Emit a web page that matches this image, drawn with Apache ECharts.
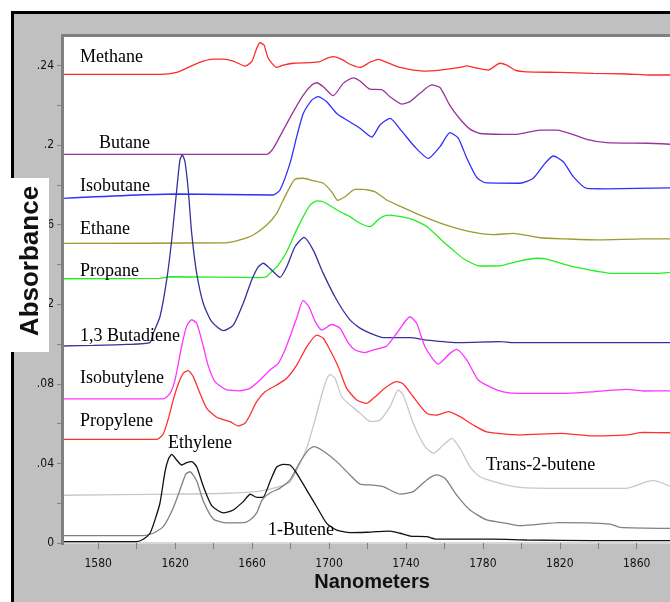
<!DOCTYPE html>
<html><head><meta charset="utf-8">
<script src="https://cdn.jsdelivr.net/npm/echarts@6/dist/echarts.min.js"></script>
<style>html,body{margin:0;padding:0;background:#fff}#c{width:670px;height:602px}</style>
</head><body><div id="c"></div>
<script>
// ---- axis ticks ----
const xTicks = [1580,1600,1620,1640,1660,1680,1700,1720,1740,1760,1780,1800,1820,1840,1860];
const xTickLabels = [1580,1620,1660,1700,1740,1780,1820,1860];
const yTicks = [0,0.02,0.04,0.06,0.08,0.10,0.12,0.14,0.16,0.18,0.20,0.22,0.24];
const yTickLabels = [0,0.04,0.08,0.12,0.16,0.20,0.24];
const xLabel = 'Nanometers';
const yLabel = 'Absorbance';

// ---- spectra: [wavelength nm, absorbance] ----
const methane = [[1561.1,0.2355],[1612.1,0.2355],[1620.8,0.2365],[1629.4,0.2402],[1634.6,0.2422],[1639.8,0.2432],[1645.0,0.2432],[1650.2,0.2422],[1656.3,0.2397],[1659.8,0.2419],[1662.4,0.2486],[1664.1,0.2514],[1666.2,0.2503],[1668.4,0.2436],[1672.8,0.2390],[1676.2,0.2402],[1681.4,0.2411],[1690.1,0.2414],[1695.3,0.2419],[1698.8,0.2436],[1702.2,0.2444],[1706.6,0.2431],[1710.9,0.2406],[1716.1,0.2390],[1721.3,0.2416],[1725.6,0.2431],[1730.0,0.2416],[1736.9,0.2390],[1749.0,0.2372],[1757.7,0.2377],[1768.1,0.2390],[1771.6,0.2398],[1777.6,0.2385],[1782.8,0.2377],[1788.9,0.2411],[1792.4,0.2402],[1796.7,0.2377],[1802.8,0.2368],[1820.1,0.2365],[1837.4,0.2360],[1854.8,0.2357],[1866.9,0.2352],[1877.3,0.2352]];
const butane = [[1561.1,0.1953],[1667.6,0.1953],[1671.0,0.1983],[1676.2,0.2075],[1681.4,0.2167],[1686.6,0.2251],[1691.0,0.2302],[1693.6,0.2313],[1697.0,0.2293],[1702.2,0.2248],[1707.4,0.2310],[1712.6,0.2338],[1716.1,0.2322],[1721.3,0.2281],[1727.4,0.2279],[1731.7,0.2243],[1737.8,0.2206],[1742.1,0.2218],[1747.3,0.2260],[1753.4,0.2302],[1757.7,0.2289],[1762.9,0.2198],[1768.1,0.2131],[1773.3,0.2080],[1778.5,0.2058],[1790.6,0.2054],[1797.6,0.2054],[1809.7,0.2075],[1818.4,0.2075],[1834.0,0.2029],[1844.4,0.2012],[1865.2,0.2009],[1877.3,0.2004]];
const isobutane = [[1561.1,0.1732],[1620.8,0.1754],[1671.0,0.1749],[1674.5,0.1774],[1679.7,0.1908],[1683.2,0.2042],[1686.6,0.2159],[1691.0,0.2226],[1694.4,0.2243],[1698.8,0.2218],[1704.0,0.2159],[1709.2,0.2126],[1716.1,0.2084],[1722.2,0.2040],[1726.5,0.2101],[1731.7,0.2134],[1737.8,0.2070],[1744.7,0.1990],[1751.6,0.1933],[1757.7,0.1992],[1762.9,0.2062],[1767.2,0.2035],[1771.6,0.1935],[1776.8,0.1837],[1781.1,0.1811],[1799.3,0.1808],[1806.2,0.1833],[1812.3,0.1908],[1816.6,0.1945],[1821.8,0.1916],[1827.0,0.1841],[1834.0,0.1782],[1844.4,0.1780],[1877.3,0.1785]];
const ethane = [[1561.1,0.1506],[1646.8,0.1509],[1653.7,0.1523],[1660.6,0.1548],[1667.6,0.1598],[1672.8,0.1657],[1676.2,0.1724],[1679.7,0.1790],[1682.3,0.1828],[1686.6,0.1833],[1691.8,0.1821],[1697.0,0.1808],[1701.4,0.1765],[1704.5,0.1722],[1708.3,0.1740],[1713.5,0.1777],[1717.8,0.1777],[1723.9,0.1765],[1730.0,0.1724],[1736.9,0.1693],[1747.3,0.1648],[1759.4,0.1603],[1773.3,0.1565],[1785.4,0.1550],[1795.8,0.1556],[1809.7,0.1534],[1823.6,0.1528],[1840.9,0.1523],[1863.4,0.1528],[1877.3,0.1528]];
const propane = [[1561.1,0.1328],[1612.1,0.1330],[1617.3,0.1338],[1664.1,0.1334],[1667.6,0.1339],[1669.3,0.1355],[1673.6,0.1397],[1678.0,0.1464],[1682.3,0.1556],[1686.6,0.1640],[1690.1,0.1698],[1693.6,0.1719],[1697.0,0.1715],[1701.4,0.1690],[1705.7,0.1665],[1710.9,0.1640],[1716.1,0.1607],[1721.3,0.1590],[1726.5,0.1632],[1730.8,0.1648],[1742.1,0.1630],[1750.8,0.1591],[1759.4,0.1514],[1764.5,0.1472],[1769.8,0.1430],[1778.5,0.1392],[1788.9,0.1393],[1797.6,0.1414],[1808.0,0.1431],[1813.2,0.1427],[1825.3,0.1393],[1840.9,0.1363],[1846.1,0.1355],[1870.4,0.1355],[1877.3,0.1360]];
const butadiene = [[1561.1,0.0990],[1577.4,0.0993],[1594.8,0.0998],[1606.9,0.1007],[1608.6,0.1054],[1612.1,0.1137],[1615.6,0.1322],[1618.2,0.1523],[1620.8,0.1774],[1622.5,0.1925],[1623.7,0.1950],[1625.1,0.1916],[1626.8,0.1774],[1628.6,0.1556],[1631.2,0.1355],[1634.6,0.1205],[1639.0,0.1112],[1645.0,0.1067],[1650.2,0.1095],[1655.4,0.1205],[1659.8,0.1322],[1663.2,0.1388],[1665.8,0.1406],[1669.3,0.1380],[1674.5,0.1335],[1678.0,0.1388],[1682.3,0.1489],[1687.0,0.1536],[1691.8,0.1472],[1697.0,0.1355],[1704.0,0.1221],[1710.9,0.1121],[1716.1,0.1080],[1721.3,0.1055],[1728.2,0.1032],[1742.1,0.1032],[1750.8,0.1020],[1768.1,0.1007],[1788.9,0.1012],[1795.8,0.1007],[1877.3,0.1007]];
const isobutylene = [[1561.1,0.0724],[1613.8,0.0724],[1617.3,0.0752],[1619.9,0.0819],[1623.4,0.0990],[1626.0,0.1090],[1628.6,0.1122],[1631.2,0.1104],[1634.6,0.0990],[1637.1,0.0894],[1640.7,0.0811],[1646.8,0.0769],[1653.7,0.0765],[1658.9,0.0777],[1664.1,0.0819],[1669.3,0.0869],[1673.6,0.0903],[1677.1,0.0970],[1679.7,0.1037],[1683.2,0.1131],[1686.6,0.1219],[1689.6,0.1187],[1692.9,0.1111],[1696.3,0.1070],[1701.4,0.1098],[1705.7,0.1079],[1710.1,0.1004],[1713.5,0.0970],[1718.7,0.0957],[1723.1,0.0970],[1730.0,0.0990],[1735.2,0.1054],[1742.1,0.1137],[1745.6,0.1104],[1749.9,0.0986],[1756.8,0.0899],[1762.9,0.0953],[1766.4,0.0973],[1771.6,0.0920],[1777.6,0.0819],[1783.7,0.0785],[1790.6,0.0760],[1799.3,0.0752],[1820.1,0.0752],[1837.4,0.0760],[1854.8,0.0772],[1863.4,0.0764],[1877.3,0.0765]];
const propylene = [[1561.1,0.0521],[1610.4,0.0521],[1613.8,0.0548],[1616.4,0.0623],[1619.0,0.0719],[1621.6,0.0799],[1624.2,0.0853],[1626.8,0.0866],[1629.4,0.0836],[1632.9,0.0752],[1636.4,0.0677],[1641.6,0.0632],[1648.5,0.0610],[1652.8,0.0588],[1656.3,0.0602],[1658.9,0.0643],[1662.4,0.0710],[1666.7,0.0760],[1672.8,0.0794],[1678.0,0.0828],[1683.2,0.0894],[1688.4,0.0986],[1693.6,0.1045],[1697.0,0.1029],[1700.5,0.0970],[1704.8,0.0886],[1709.2,0.0777],[1714.4,0.0719],[1719.6,0.0702],[1723.0,0.0727],[1730.0,0.0785],[1735.2,0.0811],[1738.6,0.0799],[1743.8,0.0735],[1750.8,0.0652],[1756.0,0.0643],[1762.0,0.0660],[1768.1,0.0635],[1775.0,0.0593],[1782.0,0.0559],[1799.3,0.0543],[1820.1,0.0551],[1837.4,0.0538],[1854.8,0.0543],[1863.4,0.0556],[1877.3,0.0554]];
const trans2butene = [[1561.1,0.0240],[1620.8,0.0246],[1646.8,0.0250],[1664.1,0.0261],[1672.8,0.0279],[1679.7,0.0307],[1683.8,0.0377],[1688.4,0.0477],[1692.7,0.0618],[1696.2,0.0744],[1698.8,0.0824],[1700.5,0.0847],[1703.1,0.0828],[1706.6,0.0735],[1710.9,0.0693],[1716.1,0.0653],[1721.3,0.0611],[1726.5,0.0618],[1731.7,0.0685],[1736.0,0.0769],[1738.6,0.0744],[1743.8,0.0602],[1749.9,0.0484],[1754.2,0.0451],[1759.4,0.0492],[1763.8,0.0526],[1768.1,0.0476],[1773.3,0.0383],[1778.5,0.0333],[1788.9,0.0300],[1799.3,0.0280],[1820.1,0.0275],[1854.8,0.0275],[1865.2,0.0308],[1868.6,0.0313],[1877.3,0.0286]];
const butene1 = [[1561.1,0.0037],[1603.4,0.0037],[1608.6,0.0049],[1613.8,0.0082],[1619.0,0.0176],[1623.4,0.0291],[1625.6,0.0347],[1627.7,0.0358],[1631.2,0.0312],[1634.6,0.0211],[1639.8,0.0121],[1646.8,0.0101],[1655.4,0.0102],[1658.9,0.0116],[1662.4,0.0151],[1665.2,0.0216],[1669.3,0.0251],[1674.5,0.0276],[1679.7,0.0317],[1684.9,0.0407],[1689.2,0.0467],[1692.1,0.0484],[1697.0,0.0462],[1704.0,0.0409],[1710.9,0.0342],[1716.1,0.0296],[1723.0,0.0291],[1728.2,0.0283],[1736.9,0.0246],[1743.8,0.0258],[1750.8,0.0317],[1756.0,0.0342],[1760.3,0.0325],[1766.4,0.0241],[1773.3,0.0166],[1782.0,0.0116],[1792.4,0.0099],[1799.3,0.0087],[1820.1,0.0102],[1846.1,0.0095],[1851.3,0.0079],[1877.3,0.0074]];
const ethylene = [[1561.1,0.0007],[1600.0,0.0007],[1603.4,0.0019],[1606.9,0.0049],[1609.5,0.0116],[1612.1,0.0201],[1614.7,0.0357],[1616.5,0.0422],[1618.2,0.0445],[1620.8,0.0417],[1623.4,0.0392],[1626.0,0.0404],[1628.6,0.0409],[1631.2,0.0383],[1634.6,0.0286],[1639.0,0.0188],[1645.0,0.0151],[1650.2,0.0166],[1655.4,0.0208],[1659.1,0.0245],[1662.5,0.0229],[1665.6,0.0229],[1669.3,0.0308],[1672.8,0.0382],[1676.2,0.0395],[1679.7,0.0392],[1683.2,0.0350],[1688.4,0.0266],[1693.6,0.0182],[1698.8,0.0099],[1704.0,0.0065],[1710.9,0.0052],[1719.6,0.0054],[1724.8,0.0057],[1731.7,0.0060],[1736.9,0.0049],[1742.1,0.0035],[1750.8,0.0032],[1756.0,0.0019],[1785.4,0.0019],[1802.8,0.0015],[1837.4,0.0012],[1877.3,0.0012]];

const seriesNames = ['Methane','Butane','Isobutane','Ethane','Propane','1,3 Butadiene','Isobutylene','Propylene','Trans-2-butene','1-Butene','Ethylene'];
const seriesData = [methane,butane,isobutane,ethane,propane,butadiene,isobutylene,propylene,trans2butene,butene1,ethylene];
const seriesColors = ['#ff2a2a','#993399','#2f2fff','#9c9a30','#22ee22','#333399','#ff33ff','#ff3030','#c8c8c8','#808080','#111111'];
const curveLabels = ['Methane','Butane','Isobutane','Ethane','Propane','1,3 Butadiene','Isobutylene','Propylene','Ethylene','1-Butene','Trans-2-butene'];
const labelPos = [[80,57],[99,143],[80,186],[80,229],[80,271],[80,336],[80,378],[80,421],[168,443],[268,530],[486,465]];

const chart = echarts.init(document.getElementById('c'), null, {renderer:'canvas'});
const narrow = '"Liberation Sans Narrow","Arial Narrow","DejaVu Sans Condensed",sans-serif';

const graphics = [
  {type:'rect', z:-10, shape:{x:12.5,y:12.5,width:720,height:720}, style:{fill:'#c0c0c0', stroke:'#000', lineWidth:3}},
  {type:'rect', z:-9, shape:{x:64,y:37,width:620,height:506}, style:{fill:'#ffffff'}},
  {type:'polyline', z:50, shape:{points:[[62.5,545],[62.5,35.5],[672,35.5]]}, style:{stroke:'#808080', lineWidth:3, fill:null}},
  {type:'rect', z:100, shape:{x:0,y:178,width:49,height:174}, style:{fill:'#ffffff'}},
  {type:'text', z:101, x:31, y:261, rotation:Math.PI/2, style:{text:yLabel, font:'bold 26px "Liberation Sans",Arial,sans-serif', fill:'#111', textAlign:'center', textVerticalAlign:'middle'}},
  {type:'text', z:101, x:372, y:582, style:{text:xLabel, font:'bold 20px "Liberation Sans",Arial,sans-serif', fill:'#111', textAlign:'center', textVerticalAlign:'middle'}}
];
curveLabels.forEach((t,i)=>{
  graphics.push({type:'text', z:60, x:labelPos[i][0], y:labelPos[i][1], style:{text:t, font:'18px "Liberation Serif","Times New Roman",serif', fill:'#000', textAlign:'left', textVerticalAlign:'middle'}});
});

chart.setOption({
  animation:false,
  backgroundColor:'#ffffff',
  grid:{left:64, top:37, right:0, bottom:59, show:false},
  xAxis:{type:'value', min:1562.2, max:1877.3,
    axisLine:{show:true, lineStyle:{color:'#d8d8d8', width:2}},
    axisTick:{show:true, customValues:xTicks, length:6, lineStyle:{color:'#808080', width:1}},
    axisLabel:{customValues:xTickLabels, margin:15, fontSize:12, fontFamily:narrow, color:'#111', formatter:v=>String(Math.round(v))},
    splitLine:{show:false}},
  yAxis:{type:'value', min:0, max:0.2543,
    axisLine:{show:false},
    axisTick:{show:true, customValues:yTicks, length:7, lineStyle:{color:'#808080', width:1}},
    axisLabel:{customValues:yTickLabels, margin:10, fontSize:12, fontFamily:narrow, color:'#111',
      formatter:v=>{ if (Math.abs(v)<1e-9) return '0'; return String(+v.toFixed(2)).replace(/^0/,''); }},
    splitLine:{show:false}},
  graphic:graphics,
  series: seriesData.map((d,i)=>({
    name:seriesNames[i], type:'line', data:d, showSymbol:false, symbol:'none',
    smooth:0.2, clip:true, lineStyle:{color:seriesColors[i], width:1.3}, z:10
  }))
});
</script></body></html>
